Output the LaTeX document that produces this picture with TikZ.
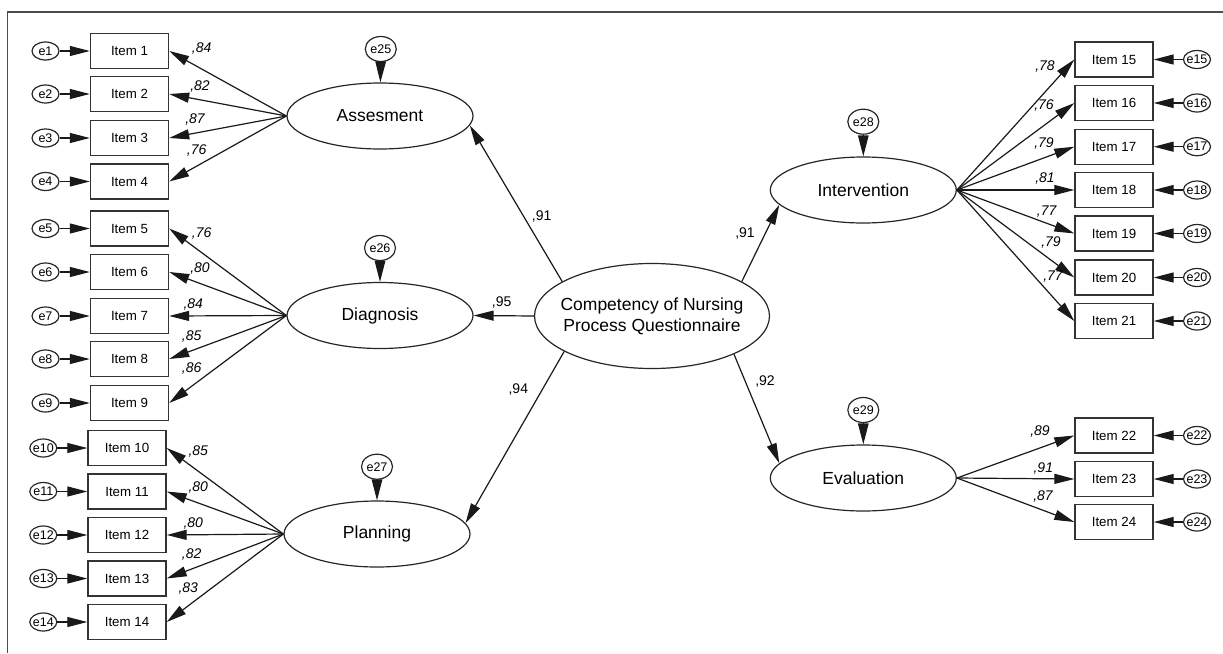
\documentclass[tikz,border=0pt]{standalone}
\usepackage{fontspec}
\setmainfont{Liberation Sans}
\usetikzlibrary{shapes.geometric,arrows.meta}
\begin{document}
\begin{tikzpicture}[x=1pt,y=-1pt,
 item/.style={draw=black!80, line width=1.4pt, minimum width=78pt, minimum height=35pt, inner sep=0pt, font=\fontsize{13.3}{15}\selectfont},
 err/.style={draw=black!85, line width=1.2pt, ellipse, minimum width=27pt, minimum height=18pt, inner sep=0pt, label={[font=\fontsize{12.5}{14}\selectfont, inner sep=0pt]center:#1}},
 pinerr/.style={err=#1, minimum width=31pt, minimum height=25pt},
 lat/.style={draw=black!85, line width=1.2pt, ellipse, minimum width=186pt, minimum height=66pt, inner sep=0pt, label={[font=\fontsize{17.5}{20}\selectfont]center:#1}},
 arr/.style={-{Triangle[length=20pt,width=10pt]}, line width=1.2pt, draw=black!90},
 pinarr/.style={-{Triangle[length=21pt,width=10.5pt]}, line width=1.2pt, draw=black!90},
 ld/.style={font=\fontsize{14}{16}\selectfont\itshape, inner sep=0pt},
 sl/.style={font=\fontsize{14}{16}\selectfont, inner sep=0pt},
]
\useasboundingbox (0,0) rectangle (1223,653);
\draw[line width=1.6pt, black!70] (7.5,653) -- (7.5,11.7) -- (1223,11.7);

% latent variables
\node[lat=Assesment] (ass) at (380,116) {};
\node[lat=Diagnosis] (dia) at (380,315.5) {};
\node[lat=Planning] (pla) at (377,534) {};
\node[lat=Intervention] (int) at (863.3,190) {};
\node[lat=Evaluation] (eva) at (863.3,478) {};
\node[draw=black!85, line width=1.2pt, ellipse, minimum width=235pt, minimum height=105pt, inner sep=0pt] (cnp) at (652,316) {};
\node[align=center, font=\fontsize{17.5}{20.7}\selectfont] (cnpt) at (cnp.center) {Competency of Nursing\\Process Questionnaire};

% disturbances
\node[pinerr=e25] (e25) at (380.8,49) {};
\node[pinerr=e26] (e26) at (380,248) {};
\node[pinerr=e27] (e27) at (377,466.7) {};
\node[pinerr=e28] (e28) at (863.3,121.7) {};
\node[pinerr=e29] (e29) at (863.3,410) {};
\draw[pinarr] (e25) -- (ass);
\draw[pinarr] (e26) -- (dia);
\draw[pinarr] (e27) -- (pla);
\draw[pinarr] (e28) -- (int);
\draw[pinarr] (e29) -- (eva);

% left items
\foreach \n/\y in {1/51,2/94,3/138,4/181.5,5/228.5,6/272,7/316,8/359,9/403} {
  \node[item] (i\n) at (129.5,\y) {Item \n};
  \node[err=e\n] (e\n) at (45.5,\y) {};
  \draw[arr] (e\n) -- (i\n);
}
\foreach \n/\y in {10/448,11/491.5,12/535,13/578.5,14/622} {
  \node[item] (i\n) at (127,\y) {Item \n};
  \node[err=e\n] (e\n) at (43.3,\y) {};
  \draw[arr] (e\n) -- (i\n);
}
% right items
\foreach \n/\y in {15/59.5,16/103,17/146.7,18/190,19/233.5,20/277.5,21/321,22/435.5,23/479,24/522} {
  \node[item] (i\n) at (1114,\y) {Item \n};
  \node[err=e\n] (e\n) at (1197,\y) {};
  \draw[arr] (e\n) -- (i\n);
}

% loadings
\foreach \n in {1,...,4} \draw[arr] (ass.west) -- (i\n.east);
\foreach \n in {5,...,9} \draw[arr] (dia.west) -- (i\n.east);
\foreach \n in {10,...,14} \draw[arr] (pla.west) -- (i\n.east);
\foreach \n in {15,...,21} \draw[arr] (int.east) -- (i\n.west);
\foreach \n in {22,23,24} \draw[arr] (eva.east) -- (i\n.west);

% structural paths
\draw[arr] (cnp.159) -- (ass.354);
\draw[arr] (cnp.west) -- (dia.east);
\draw[arr] (cnp.202) -- (pla.7);
\draw[arr] (cnp.21) -- (int.190);
\draw[arr] (cnp.335) -- (eva.170);

% loading labels
\foreach \t/\x/\y [count=\k] in {{84}/201.7/49, {82}/200/86.7, {87}/195/120, {76}/196.7/151,
  {76}/201.7/233.3, {80}/200/268.3, {84}/193.3/305, {85}/191.7/336.7, {86}/191.7/368.3,
  {85}/198.3/451.7, {80}/198.3/487.3, {80}/193.3/523.3, {82}/191.7/554, {83}/188.3/588.3,
  {78}/1045/66.7, {76}/1044/106, {79}/1044/144, {81}/1045/178.3, {77}/1046.7/211.7, {79}/1051/243, {77}/1053/276.7,
  {89}/1040/431.7, {91}/1043.3/468.3, {87}/1043/496.7}
  \node[ld] (l\k) at (\x,\y) {,\t};

% structural labels
\node[sl] (s1) at (541.7,216.7) {,91};
\node[sl] (s2) at (501.7,302.7) {,95};
\node[sl] (s3) at (518.3,390) {,94};
\node[sl] (s4) at (745,233.3) {,91};
\node[sl] (s5) at (765,381.7) {,92};
\end{tikzpicture}
\end{document}
